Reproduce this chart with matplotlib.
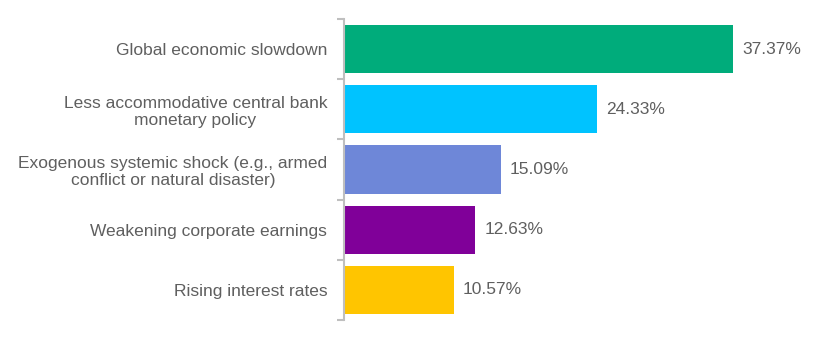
import matplotlib
matplotlib.use("Agg")
import matplotlib.pyplot as plt
import numpy as np

categories = [
    "Global economic slowdown",
    "Less accommodative central bank\nmonetary policy",
    "Exogenous systemic shock (e.g., armed\nconflict or natural disaster)",
    "Weakening corporate earnings",
    "Rising interest rates",
]
values = [37.37, 24.33, 15.09, 12.63, 10.57]
colors = ["#00AC7B", "#00C3FF", "#6E87D8", "#800099", "#FFC500"]

plt.rcParams['font.family'] = ['Liberation Sans', 'DejaVu Sans']
fig = plt.figure(figsize=(8.2, 3.6), dpi=100)
W, H = 820, 360
left, right, top, bottom = 344, 800, 19, 320
ax = fig.add_axes([left / W, 1 - bottom / H, (right - left) / W, (bottom - top) / H])

y = np.arange(len(categories))
ax.barh(y, values, height=0.8, color=colors)
ax.set_ylim(len(categories) - 0.5, -0.5)
ax.set_xlim(0, (right - left) / 10.41)

txt = "#5f5f5f"
fs = 12.5
for yi, v in zip(y, values):
    ax.text(v + 0.85, yi, f"{v:.2f}%", va="center", ha="left", fontsize=fs, color=txt)

ax.set_yticks(y)
ax.set_yticklabels(categories, fontsize=fs, color=txt, ha="right", multialignment="center",
                   linespacing=1.2)
ax.tick_params(axis="y", which="major", length=0, pad=12)
ax.set_yticks(np.arange(-0.5, len(categories)), minor=True)
ax.tick_params(axis="y", which="minor", length=5, color="#BFBFBF", width=1.5)
ax.set_xticks([])
for s in ["top", "right", "bottom"]:
    ax.spines[s].set_visible(False)
ax.spines["left"].set_color("#BFBFBF")
ax.spines["left"].set_linewidth(1.5)

fig.savefig("out.png", dpi=100)
